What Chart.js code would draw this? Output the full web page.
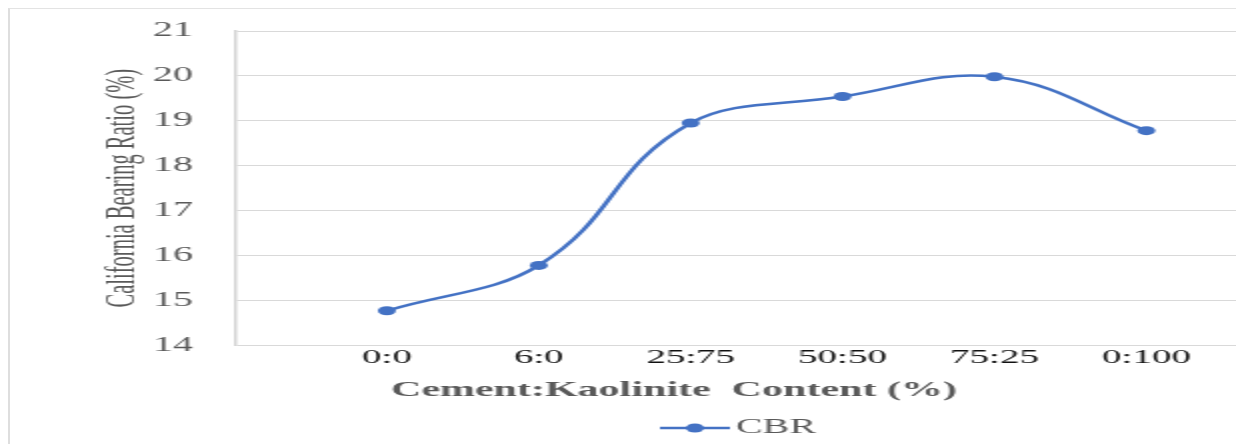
<!DOCTYPE html>
<html>
<head>
<meta charset="utf-8">
<script src="https://cdn.jsdelivr.net/npm/chart.js@4/dist/chart.umd.min.js"></script>
<style>
  html, body { margin: 0; padding: 0; background: #ffffff; overflow: hidden; }
  body { width: 1236px; height: 444px; position: relative; }
  #frame {
    position: absolute; left: 8px; top: 8px; width: 1300px; height: 500px;
    border-left: 2px solid #dedede; border-top: 1px solid #e3e3e3;
  }
  /* the figure is laid out at half width and widened 2x */
  #wrap {
    position: absolute; left: 0; top: 0; width: 618px; height: 444px;
    transform: scaleX(2); transform-origin: 0 0;
  }
</style>
</head>
<body>
<div id="frame"></div>
<div id="wrap"><canvas id="cbr"></canvas></div>
<script>
// Mix ratios (cement : kaolinite) and measured CBR values
const categories = ['0:0', '6:0', '25:75', '50:50', '75:25', '0:100'];
const cbrValues = [14.77, 15.78, 18.95, 19.54, 19.98, 18.78];
const yTicks = [14, 15, 16, 17, 18, 19, 20, 21];

const seriesName = 'CBR';
const xTitle = 'Cement:Kaolinite  Content (%)';
const yTitle = 'California Bearing Ratio (%)';
const blue = '#4472C4';
const grey = '#595959';

// x axis title and legend entry, drawn beneath the axis
const captions = {
  id: 'captions',
  afterDraw(chart) {
    const ctx = chart.ctx;
    const ds = chart.data.datasets[0];
    ctx.save();
    ctx.fillStyle = grey;
    ctx.font = 'bold 21px "Liberation Serif"';
    ctx.textAlign = 'center';
    ctx.textBaseline = 'middle';
    ctx.fillText(xTitle, 337, 391);

    // legend: line with a dot, then the series name
    const ly = 428;
    ctx.strokeStyle = ds.borderColor;
    ctx.lineWidth = 2.5;
    ctx.beginPath();
    ctx.moveTo(330, ly);
    ctx.lineTo(365, ly);
    ctx.stroke();
    ctx.fillStyle = ds.pointBackgroundColor;
    ctx.beginPath();
    ctx.arc(347.5, ly, 4.5, 0, Math.PI * 2);
    ctx.fill();
    ctx.fillStyle = grey;
    ctx.font = '20px "Liberation Serif"';
    ctx.textAlign = 'left';
    ctx.fillText(ds.label, 368, ly);
    ctx.restore();
  }
};

new Chart(document.getElementById('cbr'), {
  type: 'line',
  data: {
    datasets: [{
      label: seriesName,
      data: cbrValues.map((v, i) => ({ x: i + 1, y: v })),
      borderColor: blue,
      backgroundColor: blue,
      pointBackgroundColor: blue,
      pointBorderColor: blue,
      borderWidth: 2.5,
      pointRadius: 4.5,
      pointBorderWidth: 0,
      tension: 0.4,
      fill: false
    }]
  },
  options: {
    responsive: true,
    maintainAspectRatio: false,
    animation: false,
    devicePixelRatio: 1,
    layout: { autoPadding: false, padding: { left: 40, top: 31, right: 0, bottom: 73.3 } },
    plugins: { legend: { display: false }, tooltip: { enabled: false } },
    scales: {
      x: {
        type: 'linear',
        min: 0,
        max: 6.59,
        afterBuildTicks(scale) {
          scale.ticks = categories.map((c, i) => ({ value: i + 1 }));
        },
        grid: { display: false, drawTicks: false },
        border: { display: false },
        ticks: {
          autoSkip: false,
          maxRotation: 0,
          padding: 1,
          color: '#111111',
          font: { family: '"Liberation Serif"', size: 19.5 },
          callback: (v) => categories[Math.round(v) - 1] ?? ''
        }
      },
      y: {
        min: 14,
        max: 21,
        afterBuildTicks(scale) {
          scale.ticks = yTicks.map(v => ({ value: v }));
        },
        grid: { color: '#d9d9d9', lineWidth: 1, drawTicks: false },
        border: { display: true, color: '#d4d4d4', width: 1.5 },
        ticks: {
          padding: 21,
          color: grey,
          font: { family: '"Liberation Serif"', size: 20, lineHeight: 0.8 }
        },
        title: {
          display: true,
          text: yTitle,
          color: grey,
          font: { family: '"Liberation Serif"', size: 20.5 },
          padding: { top: 9.7, bottom: -18.8 }
        }
      }
    }
  },
  plugins: [captions]
});
</script>
</body>
</html>
